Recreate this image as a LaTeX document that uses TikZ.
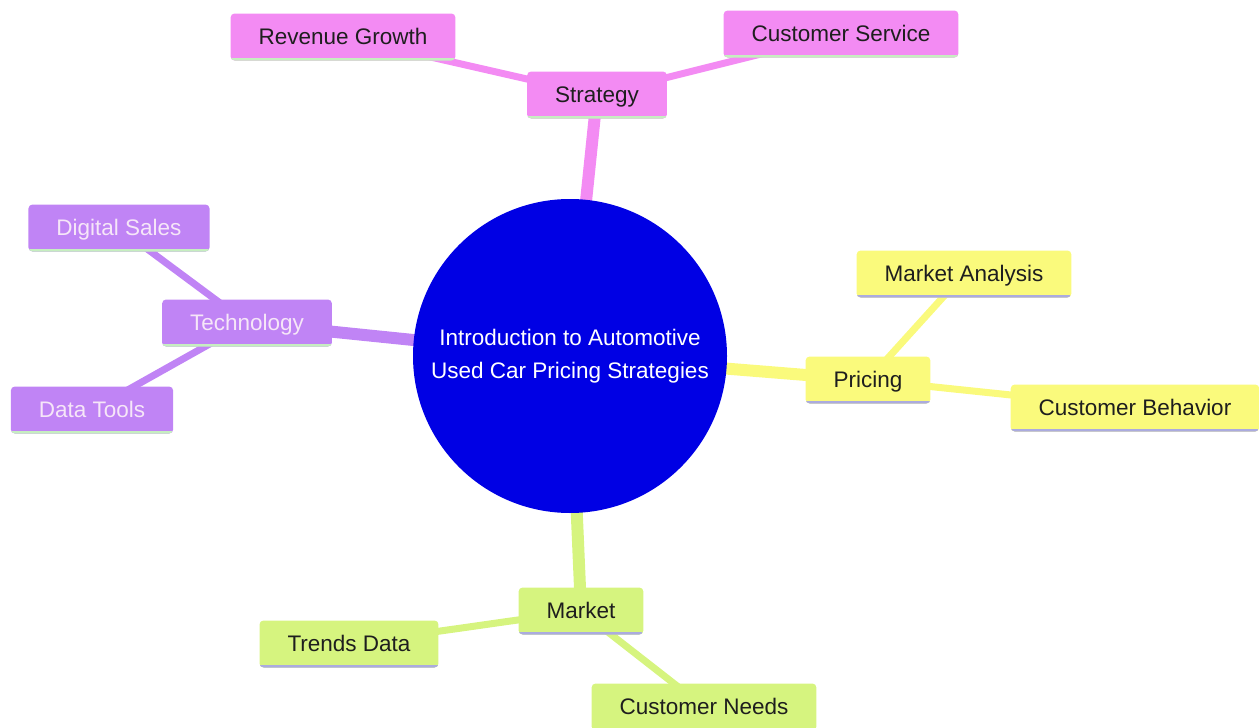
\documentclass[tikz,border=0pt]{standalone}
\usepackage{fontspec}
\setmainfont{Liberation Sans}
\usetikzlibrary{backgrounds}
\definecolor{rootblue}{HTML}{0000E4}
\definecolor{pinkfill}{HTML}{F38BF3}
\definecolor{purplefill}{HTML}{C084F5}
\definecolor{yellowfill}{HTML}{FAFA7C}
\definecolor{greenfill}{HTML}{D6F47F}
\definecolor{mintline}{HTML}{C6EEC0}
\definecolor{lavline}{HTML}{ABABDF}
\definecolor{paletext}{HTML}{F6E6F8}
\definecolor{inktext}{HTML}{1E1E1E}
\begin{document}
\begin{tikzpicture}[x=1pt, y=-1pt, font=\fontsize{22.5}{33}\selectfont,
    box/.style n args={3}{rectangle, rounded corners=4pt, fill=#1, text=#3,
      minimum height=47pt, inner xsep=28pt, text height=20pt, text depth=4.5pt,
      path picture={\fill[#2, sharp corners] (path picture bounding box.south west)
        rectangle ([yshift=3pt]path picture bounding box.south east);}},
    trunk/.style={line width=12pt},
    twig/.style={line width=7pt}]
  \useasboundingbox (0,0) rectangle (1259,728);
  \node[circle, fill=rootblue, text=white, minimum size=314pt, align=center]
        (root) at (570,356) {Introduction to Automotive\\Used Car Pricing Strategies};
  % strategy
  \node[box={pinkfill}{mintline}{inktext}] (strategy) at (597,95) {Strategy};
  \node[box={pinkfill}{mintline}{inktext}] (revenue) at (343,37) {Revenue Growth};
  \node[box={pinkfill}{mintline}{inktext}] (service) at (841,34) {Customer Service};
  % technology
  \node[box={purplefill}{mintline}{paletext}] (tech) at (247,323) {Technology};
  \node[box={purplefill}{mintline}{paletext}] (digital) at (119,228) {Digital Sales};
  \node[box={purplefill}{mintline}{paletext}] (datatools) at (92,410) {Data Tools};
  % pricing
  \node[box={yellowfill}{lavline}{inktext}] (pricing) at (868,380) {Pricing};
  \node[box={yellowfill}{lavline}{inktext}] (analysis) at (964,274) {Market Analysis};
  \node[box={yellowfill}{lavline}{inktext}] (behavior) at (1135,408) {Customer Behavior};
  % market
  \node[box={greenfill}{lavline}{inktext}] (market) at (581,611) {Market};
  \node[box={greenfill}{lavline}{inktext}] (trends) at (349,644) {Trends Data};
  \node[box={greenfill}{lavline}{inktext}] (needs) at (704,707) {Customer Needs};
  \begin{scope}[on background layer]
    \draw[trunk, pinkfill] (root.center) -- (strategy.center);
    \draw[twig, pinkfill] (strategy.center) -- (revenue.center);
    \draw[twig, pinkfill] (strategy.center) -- (service.center);
    \draw[trunk, purplefill] (root.center) -- (tech.center);
    \draw[twig, purplefill] (tech.center) -- (digital.center);
    \draw[twig, purplefill] (tech.center) -- (datatools.center);
    \draw[trunk, yellowfill] (root.center) -- (pricing.center);
    \draw[twig, yellowfill] (pricing.center) -- (analysis.center);
    \draw[twig, yellowfill] (pricing.center) -- (behavior.center);
    \draw[trunk, greenfill] (root.center) -- (market.center);
    \draw[twig, greenfill] (market.center) -- (trends.center);
    \draw[twig, greenfill] (market.center) -- (needs.center);
  \end{scope}
\end{tikzpicture}
\end{document}
